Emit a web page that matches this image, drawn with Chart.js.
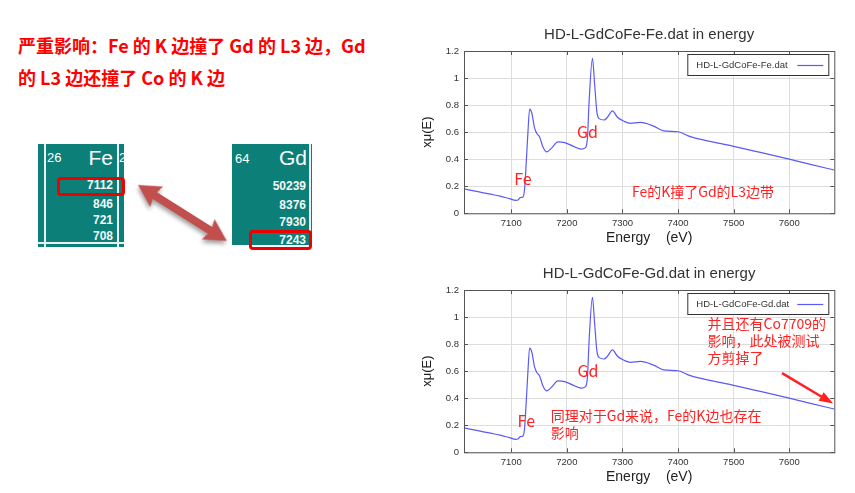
<!DOCTYPE html>
<html>
<head>
<meta charset="utf-8">
<script src="https://cdn.jsdelivr.net/npm/chart.js@4/dist/chart.umd.min.js"></script>
<style>
body { margin: 0; width: 855px; height: 493px; background: #fff; position: relative; overflow: hidden; font-family: "Noto Sans CJK SC", sans-serif; }
.head { position: absolute; left: 18px; top: 29px; color: #f00; font-weight: bold; font-size: 18px; line-height: 32px; white-space: nowrap; }
.tile { position: absolute; background: #0b7f78; color: #fff; overflow: hidden; font-family: "Liberation Sans", Arial, sans-serif; }
.tile span { position: absolute; line-height: 1; }
.vl { position: absolute; top: 0; bottom: 0; width: 1.5px; background: #e6f2f1; }
.hl { position: absolute; left: 0; right: 0; height: 1.5px; background: #e6f2f1; }
.num { right: 0; font-weight: bold; font-size: 12px; color: #f2f8f7; }
.redbox { position: absolute; box-sizing: border-box; border: 3px solid #ee0000; border-radius: 4px; }
canvas { position: absolute; }
</style>
</head>
<body>

<div class="head">严重影响：Fe 的 K 边撞了 Gd 的 L3 边，Gd<br>的 L3 边还撞了 Co 的 K 边</div>

<div class="tile" style="left:38px;top:144px;width:86px;height:103px;">
  <div class="vl" style="left:6px"></div>
  <div class="vl" style="left:79px"></div>
  <div class="hl" style="top:98px"></div>
  <span style="left:9px;top:7px;font-size:13px;">26</span>
  <span style="right:11px;top:3px;font-size:21px;">Fe</span>
  <span style="left:81px;top:7px;font-size:13px;">27</span>
  <span class="num" style="right:11px;top:35px;">7112</span>
  <span class="num" style="right:11px;top:54px;">846</span>
  <span class="num" style="right:11px;top:70px;">721</span>
  <span class="num" style="right:11px;top:86px;">708</span>
</div>
<div class="redbox" style="left:57px;top:177px;width:68px;height:19px;"></div>

<div class="tile" style="left:232px;top:144px;width:80px;height:101px;">
  <div class="vl" style="left:77px"></div>
  <span style="left:3px;top:8px;font-size:13px;">64</span>
  <span style="right:5px;top:3px;font-size:21px;">Gd</span>
  <span class="num" style="right:6px;top:36px;">50239</span>
  <span class="num" style="right:6px;top:55px;">8376</span>
  <span class="num" style="right:6px;top:72px;">7930</span>
  <span class="num" style="right:6px;top:90px;">7243</span>
</div>
<div class="redbox" style="left:249px;top:230px;width:63px;height:20px;"></div>

<svg width="855" height="493" style="position:absolute;left:0;top:0;pointer-events:none">
  <defs>
    <filter id="sh" x="-20%" y="-50%" width="140%" height="200%">
      <feDropShadow dx="1" dy="3" stdDeviation="2" flood-color="#777" flood-opacity="0.7"/>
    </filter>
  </defs>
  <g transform="translate(138,185) rotate(32.2)" filter="url(#sh)">
    <polygon fill="#c0504d" points="0,0 22,-12 20,-4 85,-4 83,-12 105,0 83,12 85,4 20,4 22,12"/>
  </g>
</svg>

<canvas id="fe" width="425" height="235" style="left:420px;top:20px;"></canvas>
<canvas id="gd" width="425" height="235" style="left:420px;top:259px;"></canvas>

<script>
// spectrum (both files show the same curve)
const energy = [7015, 7040, 7060, 7080, 7097, 7108, 7112, 7116, 7121, 7124, 7127, 7130, 7133, 7137,
  7142, 7146, 7151, 7157, 7164, 7172, 7184, 7196, 7211, 7226, 7233, 7237, 7240, 7246, 7250, 7254,
  7258, 7267, 7273, 7282, 7291, 7303, 7314, 7332, 7356, 7374, 7400, 7422, 7464, 7500, 7548, 7600,
  7640, 7681];
const mu = [0.180, 0.160, 0.143, 0.127, 0.108, 0.096, 0.098, 0.116, 0.121, 0.18, 0.38, 0.60, 0.77, 0.74,
  0.63, 0.59, 0.565, 0.49, 0.454, 0.48, 0.528, 0.523, 0.497, 0.475, 0.484, 0.554, 0.825, 1.146, 0.95, 0.75,
  0.70, 0.69, 0.71, 0.757, 0.71, 0.68, 0.665, 0.672, 0.645, 0.61, 0.603, 0.567, 0.526, 0.495, 0.45, 0.40,
  0.36, 0.32];

const xRange = [7015, 7681];
const yRange = [0, 1.2];

const RED = '#ff2222';
const CJK = '"Noto Sans CJK SC", sans-serif';

// plot frame + inward ticks
const framePlugin = {
  id: 'frame',
  afterDatasetsDraw(chart) {
    const {ctx, chartArea: a, scales} = chart;
    ctx.save();
    ctx.strokeStyle = '#555';
    ctx.lineWidth = 1;
    ctx.strokeRect(a.left + 0.5, a.top + 0.5, a.width, a.height);
    ctx.beginPath();
    scales.x.ticks.forEach(t => {
      const px = Math.round(scales.x.getPixelForValue(t.value)) + 0.5;
      ctx.moveTo(px, a.top); ctx.lineTo(px, a.top + 4);
      ctx.moveTo(px, a.bottom); ctx.lineTo(px, a.bottom - 4);
    });
    scales.y.ticks.forEach(t => {
      const py = Math.round(scales.y.getPixelForValue(t.value)) + 0.5;
      ctx.moveTo(a.left, py); ctx.lineTo(a.left + 4, py);
      ctx.moveTo(a.right, py); ctx.lineTo(a.right - 4, py);
    });
    ctx.stroke();
    ctx.restore();
  }
};

// gnuplot-style key box (text left, line sample right)
const keyPlugin = {
  id: 'keybox',
  afterDatasetsDraw(chart) {
    const {ctx, chartArea: a} = chart;
    const ds = chart.data.datasets[0];
    const w = 141, h = 21;
    const x0 = a.right - 6 - w, y0 = a.top + 3;
    ctx.save();
    ctx.fillStyle = '#fff';
    ctx.fillRect(x0, y0, w, h);
    ctx.strokeStyle = '#333';
    ctx.lineWidth = 1;
    ctx.strokeRect(x0 + 0.5, y0 + 0.5, w, h);
    ctx.fillStyle = '#333';
    ctx.font = '9.5px "Liberation Sans", Arial, sans-serif';
    ctx.textBaseline = 'middle';
    ctx.fillText(ds.label, x0 + 9, y0 + h / 2 + 1);
    ctx.strokeStyle = ds.borderColor;
    ctx.lineWidth = 1.2;
    ctx.beginPath();
    ctx.moveTo(x0 + w - 31, y0 + h / 2 + 1);
    ctx.lineTo(x0 + w - 5, y0 + h / 2 + 1);
    ctx.stroke();
    ctx.restore();
  }
};

// red hand-written notes placed in data coordinates
const notesPlugin = {
  id: 'notes',
  afterDatasetsDraw(chart, args, opts) {
    const {ctx, scales: {x, y}} = chart;
    ctx.save();
    ctx.fillStyle = RED;
    ctx.textBaseline = 'middle';
    (opts.items || []).forEach(n => {
      ctx.font = n.size + 'px ' + CJK;
      ctx.textAlign = n.align || 'left';
      const px = x.getPixelForValue(n.x), py = y.getPixelForValue(n.y);
      n.text.forEach((line, i) => ctx.fillText(line, px, py + i * 17));
    });
    (opts.arrows || []).forEach(ar => {
      const x1 = x.getPixelForValue(ar.from[0]), y1 = y.getPixelForValue(ar.from[1]);
      const x2 = x.getPixelForValue(ar.to[0]), y2 = y.getPixelForValue(ar.to[1]);
      const ang = Math.atan2(y2 - y1, x2 - x1);
      ctx.strokeStyle = RED;
      ctx.lineWidth = 2.5;
      ctx.beginPath();
      ctx.moveTo(x1, y1);
      ctx.lineTo(x2 - 10 * Math.cos(ang), y2 - 10 * Math.sin(ang));
      ctx.stroke();
      ctx.beginPath();
      ctx.moveTo(x2, y2);
      ctx.lineTo(x2 - 14 * Math.cos(ang) + 5 * Math.sin(ang), y2 - 14 * Math.sin(ang) - 5 * Math.cos(ang));
      ctx.lineTo(x2 - 14 * Math.cos(ang) - 5 * Math.sin(ang), y2 - 14 * Math.sin(ang) + 5 * Math.cos(ang));
      ctx.closePath();
      ctx.fill();
    });
    ctx.restore();
  }
};

function makeChart(id, title, label, notes) {
  return new Chart(document.getElementById(id), {
    type: 'line',
    data: {
      datasets: [{
        label: label,
        data: energy.map((e, i) => ({x: e, y: mu[i]})),
        borderColor: '#5a5af8',
        borderWidth: 1.2,
        pointRadius: 0,
        cubicInterpolationMode: 'monotone',
        fill: false
      }]
    },
    options: {
      responsive: false,
      animation: false,
      layout: {padding: {left: 0, right: 10.7, top: 0, bottom: 8.7}},
      plugins: {
        legend: {display: false},
        tooltip: {enabled: false},
        title: {
          display: true, text: title, fullSize: false, color: '#333',
          font: {size: 15, weight: 'normal', family: '"Liberation Sans", Arial, sans-serif'},
          padding: {top: 6, bottom: 7}
        },
        notes: notes
      },
      scales: {
        x: {
          type: 'linear', min: xRange[0], max: xRange[1],
          ticks: {stepSize: 100, includeBounds: false, maxRotation: 0, padding: 4, color: '#333',
            font: {size: 9.5, family: '"Liberation Sans", Arial, sans-serif'},
            callback: v => String(v)},
          grid: {color: '#dddddd', drawTicks: false},
          border: {display: false},
          title: {display: true, text: 'Energy    (eV)', color: '#222', padding: 0,
            font: {size: 14, family: '"Liberation Sans", Arial, sans-serif'}},
          afterFit: s => { s.height = 33; }
        },
        y: {
          min: yRange[0], max: yRange[1],
          ticks: {stepSize: 0.2, padding: 5, color: '#333',
            font: {size: 9.5, family: '"Liberation Sans", Arial, sans-serif'},
            callback: v => String(Math.round(v * 10) / 10)},
          grid: {color: '#dddddd', drawTicks: false},
          border: {display: false},
          title: {display: true, text: 'xμ(E)', color: '#222', padding: 0,
            font: {size: 13, family: '"Liberation Sans", Arial, sans-serif'}},
          afterFit: s => { s.width = 44; }
        }
      }
    },
    plugins: [framePlugin, keyPlugin, notesPlugin]
  });
}

makeChart('fe', 'HD-L-GdCoFe-Fe.dat in energy', 'HD-L-GdCoFe-Fe.dat', {
  items: [
    {x: 7237, y: 0.60, text: ['Gd'], size: 16, align: 'center'},
    {x: 7121, y: 0.254, text: ['Fe'], size: 16, align: 'center'},
    {x: 7317, y: 0.16, text: ['Fe的K撞了Gd的L3边带'], size: 14}
  ]
});

makeChart('gd', 'HD-L-GdCoFe-Gd.dat in energy', 'HD-L-GdCoFe-Gd.dat', {
  items: [
    {x: 7238, y: 0.60, text: ['Gd'], size: 16, align: 'center'},
    {x: 7127, y: 0.233, text: ['Fe'], size: 16, align: 'center'},
    {x: 7171, y: 0.27, text: ['同理对于Gd来说，Fe的K边也存在', '影响'], size: 14},
    {x: 7453, y: 0.95, text: ['并且还有Co7709的', '影响，此处被测试', '方剪掉了'], size: 14}
  ],
  arrows: [{from: [7587, 0.585], to: [7679, 0.36]}]
});
</script>
</body>
</html>
